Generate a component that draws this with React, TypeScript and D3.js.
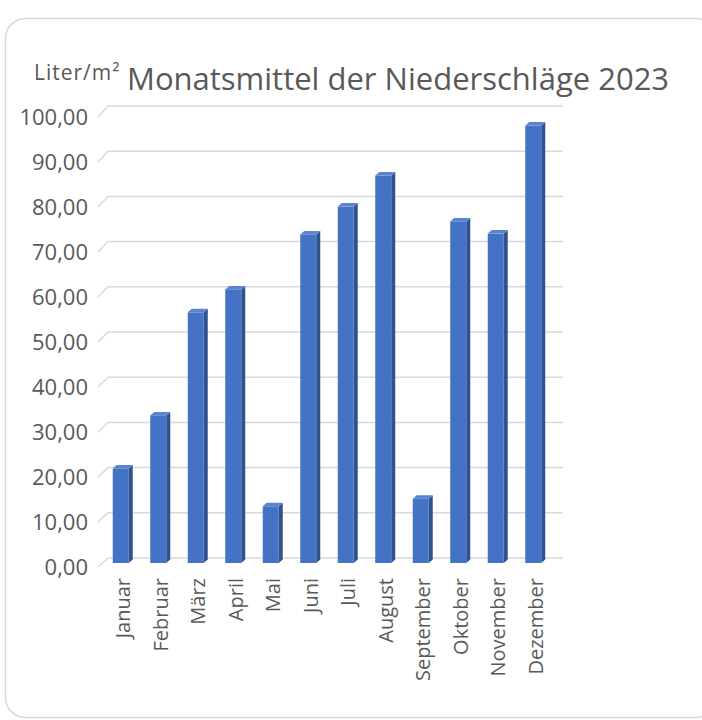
import React from "react";
import * as d3 from "d3";

const months = ["Januar","Februar","März","April","Mai","Juni","Juli","August","September","Oktober","November","Dezember"];
const values = [21.0, 32.8, 55.7, 60.8, 12.6, 73.0, 79.2, 86.1, 14.3, 75.9, 73.2, 97.2];
const yTicks = [0,10,20,30,40,50,60,70,80,90,100];
const title = "Monatsmittel der Niederschläge 2023";
const unitLabel = "Liter/m²";

const W = 702, H = 720;
const TEXT = "#595959";
const GRID = "#d9d9d9";
const FONT = "'Open Sans', 'Noto Sans', sans-serif";

export default function App() {
  const x = d3.scaleBand<string>().domain(months).range([102, 552]).padding(0);
  const yFront = d3.scaleLinear().domain([0, 100]).range([567, 117]);
  const yBack = d3.scaleLinear().domain([0, 100]).range([558, 106]);
  const yBar = d3.scaleLinear().domain([0, 100]).range([563, 113]);
  const fmt = (v: number) => v.toFixed(2).replace(".", ",");
  const bw = 16, ddx = 4, ddy = 3.5;

  return (
    <div style={{ position: "fixed", left: 0, top: 0 }}>
      <svg width={W} height={H} style={{ display: "block", fontFamily: FONT }}>
        <rect x={0} y={0} width={W} height={H} fill="#fff" />
        <rect x={5.5} y={18.5} width={710} height={699} rx={20} ry={20} fill="#fff" stroke={GRID} strokeWidth={1.5} />
        <text x={34} y={80} fontSize={21} letterSpacing={1} fill={TEXT}>{unitLabel}</text>
        <text x={127} y={90} fontSize={31} fill={TEXT}>{title}</text>
        {yTicks.map((t) => (
          <g key={t}>
            <path
              d={`M98,${yFront(t)}L108,${yBack(t)}L563,${yBack(t)}`}
              fill="none"
              stroke={GRID}
              strokeWidth={1.5}
            />
            <text x={88} y={yFront(t) - 1} textAnchor="end" dominantBaseline="central" fontSize={22} fill={TEXT}>
              {fmt(t)}
            </text>
          </g>
        ))}
        {months.map((m, i) => {
          const bx = (x(m) as number) + (x.bandwidth() - bw) / 2;
          const top = yBar(values[i]);
          const bot = yBar(0);
          return (
            <g key={m}>
              <polygon
                points={`${bx + bw},${top} ${bx + bw + ddx},${top - ddy} ${bx + bw + ddx},${bot - ddy} ${bx + bw},${bot}`}
                fill="#2f528f"
              />
              <polygon
                points={`${bx},${top} ${bx + ddx},${top - ddy} ${bx + bw + ddx},${top - ddy} ${bx + bw},${top}`}
                fill="#5a84cf"
              />
              <rect x={bx} y={top} width={bw} height={bot - top} fill="#4472c4" />
            </g>
          );
        })}
        {months.map((m) => {
          const cx = (x(m) as number) + x.bandwidth() / 2 + 2;
          return (
            <text
              key={m}
              transform={`translate(${cx},578) rotate(-90)`}
              textAnchor="end"
              dominantBaseline="central"
              fontSize={20}
              fill={TEXT}
            >
              {m}
            </text>
          );
        })}
      </svg>
    </div>
  );
}
